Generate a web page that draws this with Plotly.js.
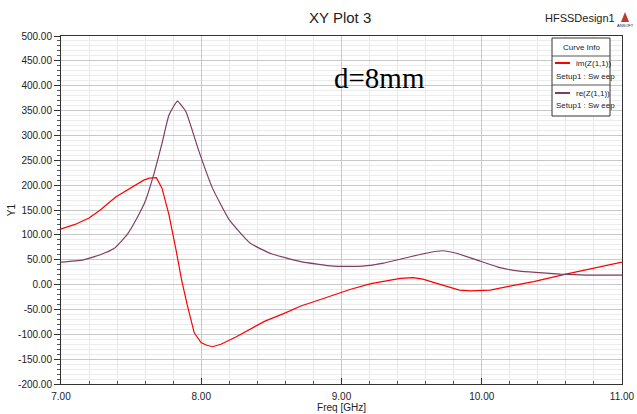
<!DOCTYPE html>
<html><head><meta charset="utf-8">
<script src="https://cdn.plot.ly/plotly-3.0.1.min.js"></script>
<style>html,body{margin:0;padding:0;background:#fff;}#c{width:637px;height:414px;}</style>
</head><body><div id="c"></div>
<script>
const freqIm = [7.0, 7.1, 7.2, 7.28, 7.39, 7.52, 7.59, 7.63, 7.68, 7.72, 7.77, 7.82, 7.86, 7.9, 7.95, 8.0, 8.04, 8.08, 8.14, 8.25, 8.35, 8.45, 8.6, 8.71, 8.85, 8.99, 9.06, 9.21, 9.32, 9.42, 9.51, 9.58, 9.65, 9.72, 9.84, 9.92, 9.99, 10.06, 10.2, 10.37, 10.6, 10.84, 11.0];
const imZ = [112, 121, 134, 150, 176, 198, 210, 214, 215, 194, 140, 70, 9, -41, -97, -117, -122, -125, -120, -105, -90, -74, -57, -43, -30, -17, -10, 2, 8, 12.6, 14, 11, 5, -1, -11, -12.5, -12, -11, -3, 6, 21, 36, 45];
const freqRe = [7.0, 7.15, 7.28, 7.38, 7.47, 7.54, 7.6, 7.66, 7.72, 7.77, 7.83, 7.89, 7.98, 8.08, 8.2, 8.35, 8.5, 8.71, 8.94, 9.15, 9.3, 9.49, 9.62, 9.72, 9.82, 9.99, 10.13, 10.27, 10.41, 10.56, 10.75, 11.0];
const reZ = [45, 49, 60, 73, 100, 133, 167, 220, 284, 341, 369, 348, 271, 194, 130, 83, 62, 46, 37, 37, 43, 56, 64, 68, 63, 47, 34, 27, 24, 21, 19, 19];
const xTicks = [7.0, 8.0, 9.0, 10.0, 11.0];
const yTicks = [-200, -150, -100, -50, 0, 50, 100, 150, 200, 250, 300, 350, 400, 450, 500];
const seriesNames = ["im(Z(1,1))", "re(Z(1,1))"];
const seriesColors = ["#ff0000", "#7f3f61"];

const F = "Liberation Sans Narrow, Arial Narrow, Liberation Sans, Arial, sans-serif";
const traces = [
  {x: freqIm, y: imZ, type: "scatter", mode: "lines", name: seriesNames[0], line: {color: seriesColors[0], width: 1.2}},
  {x: freqRe, y: reZ, type: "scatter", mode: "lines", name: seriesNames[1], line: {color: seriesColors[1], width: 1.2, shape: "spline", smoothing: 0.4}}
];
const fmt = v => v.toFixed(2);
const px2x = p => (p - 61) / 561;
const px2y = p => (384 - p) / 348;
const shapes = [
  {type: "rect", xref: "paper", yref: "paper", x0: px2x(552), x1: px2x(610), y0: px2y(116), y1: px2y(38), line: {color: "#333", width: 1}, fillcolor: "#fff", layer: "above"},
  {type: "line", xref: "paper", yref: "paper", x0: px2x(552), x1: px2x(610), y0: px2y(56), y1: px2y(56), line: {color: "#555", width: 1}},
  {type: "line", xref: "paper", yref: "paper", x0: px2x(552), x1: px2x(610), y0: px2y(85), y1: px2y(85), line: {color: "#555", width: 1}},
  {type: "line", xref: "paper", yref: "paper", x0: px2x(555), x1: px2x(570), y0: px2y(63), y1: px2y(63), line: {color: seriesColors[0], width: 2}},
  {type: "line", xref: "paper", yref: "paper", x0: px2x(555), x1: px2x(570), y0: px2y(93), y1: px2y(93), line: {color: seriesColors[1], width: 2}},
  {type: "path", xref: "paper", yref: "paper", path: `M ${px2x(621)},${px2y(22)} L ${px2x(625)},${px2y(12)} L ${px2x(629)},${px2y(22)} Z`, fillcolor: "#c0392b", line: {width: 0}}
];
const ann = (x, y, text, size, opts) => Object.assign({xref: "paper", yref: "paper", x: px2x(x), y: px2y(y), text: text, showarrow: false, font: {family: F, size: size, color: "#222"}, xanchor: "left", yanchor: "middle"}, opts || {});
const annotations = [
  ann(581, 47, "Curve Info", 8, {xanchor: "center"}),
  ann(574, 63, seriesNames[0], 8),
  ann(554, 76, "Setup1 : Sw eep", 8),
  ann(574, 93, seriesNames[1], 8),
  ann(554, 105, "Setup1 : Sw eep", 8),
  ann(379, 78, "d=8mm", 29, {xanchor: "center", font: {family: "Liberation Serif, Times New Roman, serif", size: 29, color: "#000"}}),
  ann(580, 18, "HFSSDesign1", 11, {xanchor: "center"}),
  ann(625, 25, "ANSOFT", 4, {xanchor: "center"})
];
const layout = {
  width: 637, height: 414,
  margin: {l: 61, r: 15, t: 36, b: 30},
  paper_bgcolor: "#fff", plot_bgcolor: "#fff",
  showlegend: false,
  title: {text: "XY Plot 3", x: 0.534, xanchor: "center", y: 0.957, yanchor: "middle", font: {family: F, size: 15, color: "#222"}},
  xaxis: {
    range: [7, 11], tickvals: xTicks, ticktext: xTicks.map(fmt),
    ticks: "inside", ticklen: 6, tickcolor: "#333", ticklabelstandoff: 3,
    showgrid: true, gridcolor: "#c8c8c8", gridwidth: 1,
    minor: {dtick: 0.2, tick0: 7, showgrid: true, gridcolor: "#e8e8e8", ticks: "inside", ticklen: 3, tickcolor: "#555"},
    showline: true, linecolor: "#333", linewidth: 1, mirror: true, zeroline: false,
    tickfont: {family: F, size: 10, color: "#222"},
    title: {text: "Freq [GHz]", standoff: 1, font: {family: F, size: 10, color: "#222"}}
  },
  yaxis: {
    range: [-200, 500], tickvals: yTicks, ticktext: yTicks.map(fmt),
    ticks: "outside", ticklen: 6, tickcolor: "#333",
    showgrid: true, gridcolor: "#c8c8c8", gridwidth: 1,
    minor: {dtick: 10, tick0: 0, showgrid: true, gridcolor: "#ececec", ticks: "outside", ticklen: 3, tickcolor: "#555"},
    showline: true, linecolor: "#333", linewidth: 1, mirror: true, zeroline: false,
    tickfont: {family: F, size: 10, color: "#222"},
    title: {text: "Y1", standoff: 0, font: {family: F, size: 10, color: "#222"}}
  },
  shapes: shapes,
  annotations: annotations
};
Plotly.newPlot("c", traces, layout, {staticPlot: true, displayModeBar: false});
</script></body></html>
